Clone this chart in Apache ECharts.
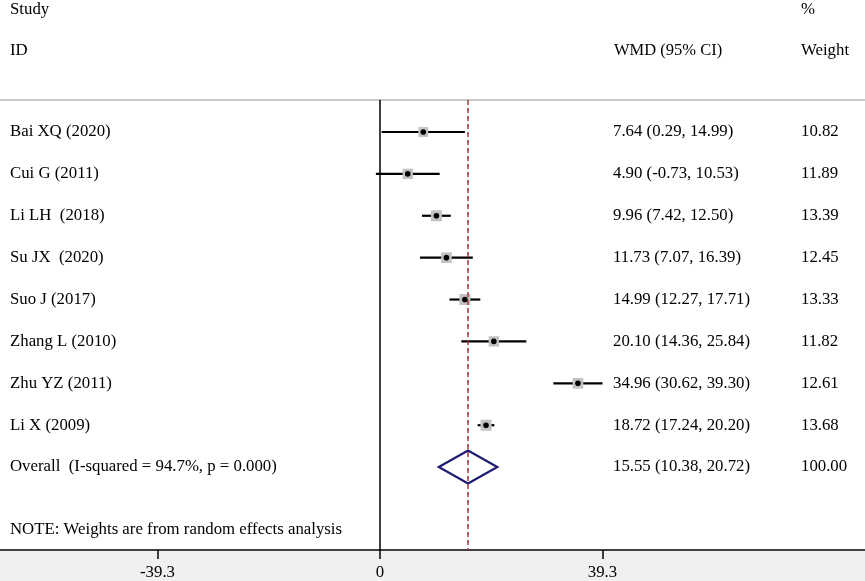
<!DOCTYPE html>
<html>
<head>
<meta charset="utf-8">
<script src="https://cdn.jsdelivr.net/npm/echarts@6/dist/echarts.min.js"></script>
<style>html,body{margin:0;padding:0;background:#fff;}#c{width:865px;height:581px;}</style>
</head>
<body>
<div id="c"></div>
<script>
const studies = ["Bai XQ (2020)", "Cui G (2011)", "Li LH  (2018)", "Su JX  (2020)", "Suo J (2017)", "Zhang L (2010)", "Zhu YZ (2011)", "Li X (2009)"];
const wmd = [7.64, 4.90, 9.96, 11.73, 14.99, 20.10, 34.96, 18.72];
const lower = [0.29, -0.73, 7.42, 7.07, 12.27, 14.36, 30.62, 17.24];
const upper = [14.99, 10.53, 12.50, 16.39, 17.71, 25.84, 39.30, 20.20];
const weights = [10.82, 11.89, 13.39, 12.45, 13.33, 11.82, 12.61, 13.68];
const overallLabel = "Overall  (I-squared = 94.7%, p = 0.000)";
const overall = [15.55, 10.38, 20.72, 100.00];
const tickValues = [-39.3, 0, 39.3];
const note = "NOTE: Weights are from random effects analysis";

const FONT = '"Liberation Serif", "Times New Roman", serif';
const FS = 16.8;
const fmt = v => v.toFixed(2);
const ciText = (e, l, h) => fmt(e) + " (" + fmt(l) + ", " + fmt(h) + ")";

const rowsData = studies.map((s, i) => [i, lower[i], wmd[i], upper[i], weights[i]]);
const textData = studies.map((s, i) => [i, s, ciText(wmd[i], lower[i], upper[i]), fmt(weights[i])]);
textData.push([studies.length, overallLabel, ciText(overall[0], overall[1], overall[2]), fmt(overall[3])]);
textData.push([studies.length + 1.5, note, "", ""]);

const chart = echarts.init(document.getElementById('c'));
chart.setOption({
  animation: false,
  backgroundColor: '#fff',
  grid: { left: 0, right: 0, top: 100, bottom: 31 },
  xAxis: {
    type: 'value', min: -67.12, max: 85.66,
    axisLine: { show: true, onZero: false, lineStyle: { color: '#000', width: 1.5 } },
    axisTick: { show: true, customValues: tickValues, length: 9, lineStyle: { color: '#000', width: 1.5 } },
    axisLabel: { customValues: tickValues, formatter: v => String(v), color: '#000', fontFamily: FONT, fontSize: FS, margin: 14 },
    splitLine: { show: false }
  },
  yAxis: { type: 'value', inverse: true, min: -0.764, max: 9.98, show: false },
  graphic: [
    { type: 'rect', shape: { x: 0, y: 551, width: 865, height: 30 }, style: { fill: '#f0f0f0' }, z: -10 },
    { type: 'line', shape: { x1: 0, y1: 100, x2: 865, y2: 100 }, style: { stroke: '#c8c8c8', lineWidth: 2 } },
    { type: 'text', x: 10, y: 10, style: { text: 'Study', font: FS + 'px ' + FONT, fill: '#000', verticalAlign: 'middle' } },
    { type: 'text', x: 10, y: 51, style: { text: 'ID', font: FS + 'px ' + FONT, fill: '#000', verticalAlign: 'middle' } },
    { type: 'text', x: 614, y: 51, style: { text: 'WMD (95% CI)', font: '16.5px ' + FONT, fill: '#000', verticalAlign: 'middle' } },
    { type: 'text', x: 801, y: 10, style: { text: '%', font: FS + 'px ' + FONT, fill: '#000', verticalAlign: 'middle' } },
    { type: 'text', x: 801, y: 51, style: { text: 'Weight', font: FS + 'px ' + FONT, fill: '#000', verticalAlign: 'middle' } }
  ],
  series: [
    {
      type: 'custom',
      data: rowsData,
      encode: { x: [1, 2, 3], y: 0 },
      renderItem: (params, api) => {
        const i = api.value(0), lo = api.value(1), est = api.value(2), hi = api.value(3), w = api.value(4);
        const pLo = api.coord([lo, i]), pHi = api.coord([hi, i]), pE = api.coord([est, i]);
        const s = Math.sqrt(w) * 3;
        return {
          type: 'group', children: [
            { type: 'line', shape: { x1: pLo[0], y1: pLo[1], x2: pHi[0], y2: pHi[1] }, style: { stroke: '#000', lineWidth: 2.2 } },
            { type: 'rect', shape: { x: pE[0] - s / 2, y: pE[1] - s / 2, width: s, height: s }, style: { fill: '#c2c2c2' } },
            { type: 'circle', shape: { cx: pE[0], cy: pE[1], r: 2.8 }, style: { fill: '#000' } }
          ]
        };
      },
      markLine: {
        silent: true, symbol: 'none', label: { show: false },
        data: [
          { xAxis: 0, lineStyle: { color: '#000', width: 1.5, type: 'solid' } },
          { xAxis: overall[0], lineStyle: { color: '#a3353f', width: 1.5, type: [5, 3] } }
        ]
      }
    },
    {
      type: 'custom',
      data: [[studies.length, overall[1], overall[0], overall[2]]],
      encode: { x: [1, 2, 3], y: 0 },
      renderItem: (params, api) => {
        const i = api.value(0);
        const pL = api.coord([api.value(1), i]), pE = api.coord([api.value(2), i]), pH = api.coord([api.value(3), i]);
        const h = 16.5;
        return {
          type: 'polygon',
          shape: { points: [[pL[0], pL[1]], [pE[0], pE[1] - h], [pH[0], pH[1]], [pE[0], pE[1] + h]] },
          style: { fill: 'none', stroke: '#1c1c72', lineWidth: 2.2 }
        };
      }
    },
    {
      type: 'custom',
      data: textData,
      encode: { y: 0 },
      renderItem: (params, api) => {
        const i = api.value(0);
        const y = api.coord([0, i])[1];
        const d = textData[params.dataIndex];
        const mk = (x, t) => ({ type: 'text', x: x, y: y, style: { text: t, font: FS + 'px ' + FONT, fill: '#000', verticalAlign: 'middle' } });
        return { type: 'group', children: [mk(10, d[1]), mk(613, d[2]), mk(801, d[3])] };
      }
    }
  ]
});
</script>
</body>
</html>
